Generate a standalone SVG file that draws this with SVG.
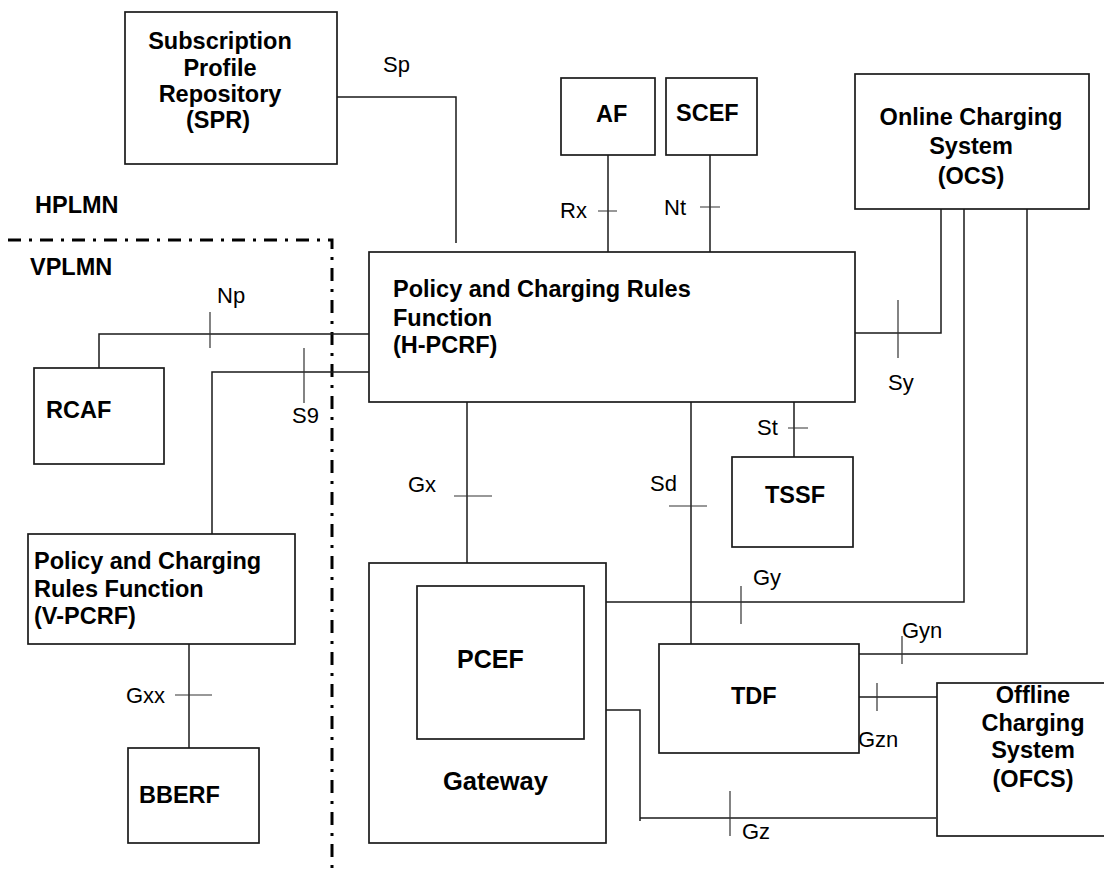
<svg xmlns="http://www.w3.org/2000/svg" width="1104" height="875" viewBox="0 0 1104 875">
<style>
.box{fill:#fff;stroke:#1a1a1a;stroke-width:1.7}
.ln{fill:none;stroke:#1a1a1a;stroke-width:1.5}
.tk{fill:none;stroke:#333;stroke-width:1.2}
.b{font-family:"Liberation Sans",Arial,sans-serif;font-weight:bold;font-size:23.5px;fill:#000}
.r{font-family:"Liberation Sans",Arial,sans-serif;font-size:22px;fill:#000}
.c{text-anchor:middle}
.dd{fill:none;stroke:#000;stroke-width:3;stroke-dasharray:13 8 3 8}
</style>
<rect width="1104" height="875" fill="#fff"/>
<path class="dd" d="M8,240 H332 V875"/>
<text class="b" x="35" y="213">HPLMN</text>
<text class="b" x="30" y="275">VPLMN</text>
<g id="connectors">
<path class="ln" d="M337,97 H456 V243"/>
<path class="ln" d="M608,155 V252"/>
<path class="ln" d="M710,155 V252"/>
<path class="ln" d="M99,368 V334 H369"/>
<path class="ln" d="M212,534 V372 H369"/>
<path class="ln" d="M855,333 H941 V209"/>
<path class="ln" d="M584,602 H964 V209"/>
<path class="ln" d="M859,654 H1027 V209"/>
<path class="ln" d="M859,697 H941"/>
<path class="ln" d="M584,710 H640 V821"/>
<path class="ln" d="M640,818 H936"/>
<path class="ln" d="M467,402 V586"/>
<path class="ln" d="M691,402 V644"/>
<path class="ln" d="M794,402 V457"/>
<path class="ln" d="M189,644 V748"/>
<path class="tk" d="M598,211 H617 M700,207 H720 M210,312 V348 M304,348 V403 M898,300 V358 M788,428 H808 M454,496 H492 M669,506 H707 M175,695 H212 M741,586 V624 M902,636 V664 M877,683 V711 M730,791 V836"/>
<text class="r" x="383" y="72">Sp</text>
<text class="r" x="560" y="218">Rx</text>
<text class="r" x="664" y="215">Nt</text>
<text class="r" x="217" y="303">Np</text>
<text class="r" x="292" y="423">S9</text>
<text class="r" x="888" y="390">Sy</text>
<text class="r" x="757" y="435">St</text>
<text class="r" x="408" y="492">Gx</text>
<text class="r" x="650" y="491">Sd</text>
<text class="r" x="126" y="703">Gxx</text>
<text class="r" x="753" y="585">Gy</text>
<text class="r" x="902" y="638">Gyn</text>
<text class="r" x="858" y="747">Gzn</text>
<text class="r" x="742" y="839">Gz</text>
</g>
<g id="spr">
<rect class="box" x="125" y="12" width="212" height="152"/>
<text class="b c" x="220" y="49">Subscription</text>
<text class="b c" x="220" y="76">Profile</text>
<text class="b c" x="220" y="102">Repository</text>
<text class="b c" x="218" y="128">(SPR)</text>
</g>
<g id="af">
<rect class="box" x="561" y="78" width="94" height="77"/>
<text class="b" x="596" y="122">AF</text>
</g>
<g id="scef">
<rect class="box" x="666" y="78" width="91" height="77"/>
<text class="b" x="676" y="121">SCEF</text>
</g>
<g id="ocs">
<rect class="box" x="855" y="74" width="234" height="135"/>
<text class="b c" x="971" y="125">Online Charging</text>
<text class="b c" x="971" y="154">System</text>
<text class="b c" x="971" y="184">(OCS)</text>
</g>
<g id="hpcrf">
<rect class="box" x="369" y="252" width="486" height="150"/>
<text class="b" x="393" y="297">Policy and Charging Rules</text>
<text class="b" x="393" y="326">Function</text>
<text class="b" x="393" y="353">(H-PCRF)</text>
</g>
<g id="rcaf">
<rect class="box" x="34" y="368" width="130" height="96"/>
<text class="b" x="46" y="418">RCAF</text>
</g>
<g id="vpcrf">
<rect class="box" x="28" y="534" width="267" height="110"/>
<text class="b" x="34" y="569">Policy and Charging</text>
<text class="b" x="34" y="597">Rules Function</text>
<text class="b" x="34" y="624">(V-PCRF)</text>
</g>
<g id="bberf">
<rect class="box" x="128" y="748" width="131" height="95"/>
<text class="b" x="139" y="803">BBERF</text>
</g>
<g id="tssf">
<rect class="box" x="732" y="457" width="121" height="90"/>
<text class="b" x="765" y="503">TSSF</text>
</g>
<g id="gateway">
<rect class="box" x="369" y="563" width="237" height="280"/>
<text class="b" x="443" y="790" style="font-size:25.5px">Gateway</text>
</g>
<g id="pcef">
<rect class="box" x="417" y="586" width="167" height="153"/>
<text class="b" x="457" y="668" style="font-size:25px">PCEF</text>
</g>
<g id="tdf">
<rect class="box" x="659" y="644" width="200" height="109"/>
<text class="b" x="731" y="704">TDF</text>
</g>
<g id="ofcs">
<rect class="box" x="937" y="683" width="170" height="153"/>
<text class="b c" x="1033" y="703">Offline</text>
<text class="b c" x="1033" y="731">Charging</text>
<text class="b c" x="1033" y="758">System</text>
<text class="b c" x="1033" y="787">(OFCS)</text>
</g>
</svg>
